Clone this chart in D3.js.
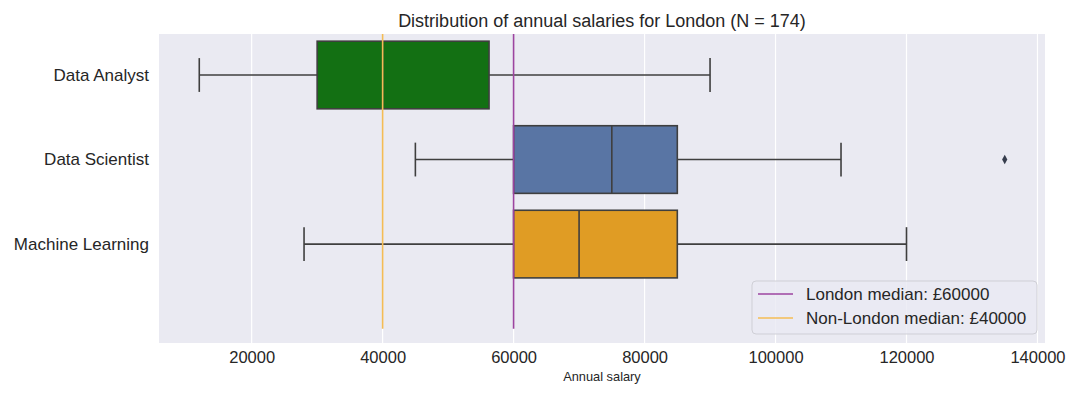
<!DOCTYPE html>
<html>
<head>
<meta charset="utf-8">
<script src="https://cdn.jsdelivr.net/npm/d3@7"></script>
<style>
  body { margin: 0; background: #fff; }
  text { font-family: "Liberation Sans", Arial, sans-serif; fill: #262626; }
</style>
</head>
<body>
<div id="chart-area"></div>
<script>
// data
const roles = ['Data Analyst', 'Data Scientist', 'Machine Learning'];
const whiskerLow = [12000, 45000, 28000];
const q1 = [30000, 60000, 60000];
const medians = [40000, 75000, 70000];
const q3 = [56250, 85000, 85000];
const whiskerHigh = [90000, 110000, 120000];
const outliers = [[], [135000], []];
const boxColors = ['#137013', '#5975a4', '#e09c24'];
const xTicks = [20000, 40000, 60000, 80000, 100000, 120000, 140000];
const refLabels = ['London median: £60000', 'Non-London median: £40000'];
const refValues = [60000, 40000];
const refColors = ['#9c44a0', '#f4bc55'];

const W = 1080, H = 396;
const margin = { left: 159, right: 35, top: 34, bottom: 53 };
const width = W - margin.left - margin.right;
const height = H - margin.top - margin.bottom;

const svg = d3.select('#chart-area').append('svg')
  .attr('width', W)
  .attr('height', H);

const chart = svg.append('g')
  .attr('transform', `translate(${margin.left},${margin.top})`);

const x = d3.scaleLinear()
  .domain([5850, 141150])
  .range([0, width]);

// category index scale
const y = d3.scaleLinear()
  .domain([-0.485, 3.17])
  .range([0, height]);

chart.append('rect')
  .attr('width', width)
  .attr('height', height)
  .attr('fill', '#eaeaf2');

// grid
chart.selectAll('.grid')
  .data(xTicks)
  .enter().append('line')
    .attr('class', 'grid')
    .attr('x1', d => x(d)).attr('x2', d => x(d))
    .attr('y1', 0).attr('y2', height)
    .attr('stroke', '#fff')
    .attr('stroke-width', 1.2);

const edge = '#3f3f3f';
const half = 0.4;

roles.forEach(function (r, i) {
  const g = chart.append('g');
  // whiskers
  g.append('line')
    .attr('x1', x(whiskerLow[i])).attr('x2', x(q1[i]))
    .attr('y1', y(i)).attr('y2', y(i))
    .attr('stroke', edge).attr('stroke-width', 1.6);
  g.append('line')
    .attr('x1', x(q3[i])).attr('x2', x(whiskerHigh[i]))
    .attr('y1', y(i)).attr('y2', y(i))
    .attr('stroke', edge).attr('stroke-width', 1.6);
  [whiskerLow[i], whiskerHigh[i]].forEach(function (v) {
    g.append('line')
      .attr('x1', x(v)).attr('x2', x(v))
      .attr('y1', y(i - half / 2)).attr('y2', y(i + half / 2))
      .attr('stroke', edge).attr('stroke-width', 1.6);
  });
  // box
  g.append('rect')
    .attr('x', x(q1[i]))
    .attr('width', x(q3[i]) - x(q1[i]))
    .attr('y', y(i - half))
    .attr('height', y(i + half) - y(i - half))
    .attr('fill', boxColors[i])
    .attr('stroke', edge)
    .attr('stroke-width', 1.6);
  g.append('line')
    .attr('x1', x(medians[i])).attr('x2', x(medians[i]))
    .attr('y1', y(i - half)).attr('y2', y(i + half))
    .attr('stroke', edge).attr('stroke-width', 1.6);
  // fliers
  g.selectAll('.flier')
    .data(outliers[i])
    .enter().append('path')
      .attr('class', 'flier')
      .attr('d', d3.symbol(d3.symbolDiamond2, 36))
      .attr('transform', d => `translate(${x(d)},${y(i)}) scale(0.7,1.25)`)
      .attr('fill', '#363d4d');
});

// reference lines
chart.selectAll('.ref')
  .data(refValues)
  .enter().append('line')
    .attr('class', 'ref')
    .attr('x1', d => x(d)).attr('x2', d => x(d))
    .attr('y1', 0).attr('y2', y(3))
    .attr('stroke', (d, i) => refColors[i])
    .attr('stroke-width', 1.6);

// axes
const xAxis = chart.append('g')
  .attr('transform', `translate(0,${height})`)
  .call(d3.axisBottom(x).tickValues(xTicks).tickFormat(d3.format('d')).tickSize(0).tickPadding(8));
xAxis.select('.domain').remove();
xAxis.selectAll('text').attr('font-size', '16.5px').attr('fill', '#262626');

const yAxis = chart.append('g')
  .call(d3.axisLeft(y).tickValues([0, 1, 2]).tickFormat(i => roles[i]).tickSize(0).tickPadding(10));
yAxis.select('.domain').remove();
yAxis.selectAll('text').attr('font-size', '17px').attr('fill', '#262626');

svg.append('text')
  .attr('x', margin.left + width / 2)
  .attr('y', 27)
  .attr('text-anchor', 'middle')
  .attr('font-size', '18px')
  .text('Distribution of annual salaries for London (N = 174)');

svg.append('text')
  .attr('x', margin.left + width / 2)
  .attr('y', 381)
  .attr('text-anchor', 'middle')
  .attr('font-size', '12.8px')
  .text('Annual salary');

// legend
const legend = chart.append('g')
  .attr('transform', `translate(${752 - margin.left},${281 - margin.top})`);
legend.append('rect')
  .attr('width', 285).attr('height', 53)
  .attr('rx', 4)
  .attr('fill', '#eaeaf2').attr('fill-opacity', 0.8)
  .attr('stroke', '#cfcfd6');
refLabels.forEach(function (l, i) {
  legend.append('line')
    .attr('x1', 6).attr('x2', 41)
    .attr('y1', 13 + i * 24).attr('y2', 13 + i * 24)
    .attr('stroke', refColors[i]).attr('stroke-width', 1.6);
  legend.append('text')
    .attr('x', 54).attr('y', 19 + i * 24)
    .attr('font-size', '17px')
    .text(l);
});
</script>
</body>
</html>
